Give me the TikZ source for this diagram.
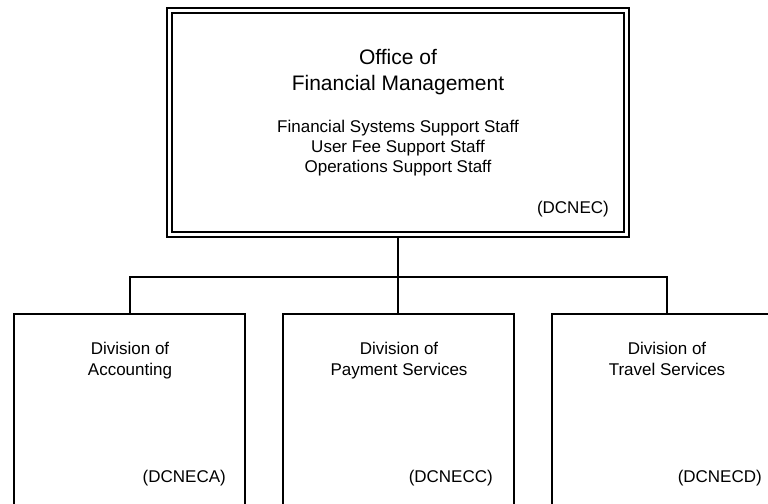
\documentclass[tikz,border=0pt]{standalone}
\usepackage{fontspec}
\setmainfont{Liberation Sans}
\begin{document}
\begin{tikzpicture}[x=1bp,y=-1bp,
  frame/.style={draw=black,line width=2bp},
  link/.style={draw=black,line width=2bp},
  bigtxt/.style={anchor=base,inner sep=0pt,font=\fontsize{21bp}{26bp}\selectfont},
  txt/.style={anchor=base,inner sep=0pt,font=\fontsize{17bp}{20bp}\selectfont},
  code/.style={anchor=base east,inner sep=0pt,font=\fontsize{17bp}{20bp}\selectfont}]
\useasboundingbox (0,0) rectangle (768,504);
\clip (0,0) rectangle (768,504);
\fill[white] (0,0) rectangle (768,504);

% head office: double frame
\draw[frame] (167,8) rectangle (629,237);
\draw[frame] (172,13) rectangle (624,232);
\coordinate (top) at (398,237);
\node[bigtxt] (t1) at (398,65) {Office of};
\node[bigtxt] (t2) at (398,91) {Financial Management};
\node[txt] (s1) at (398,133) {Financial Systems Support Staff};
\node[txt] (s2) at (398,153) {User Fee Support Staff};
\node[txt] (s3) at (398,173) {Operations Support Staff};
\node[code] (c0) at (609,214) {(DCNEC)};

% divisions
\draw[frame] (14,314) rectangle (245,530);
\draw[frame] (283,314) rectangle (514,530);
\draw[frame] (552,314) rectangle (783,530);
\coordinate (d1) at (130,314);
\coordinate (d2) at (398,314);
\coordinate (d3) at (667,314);
\coordinate (bus) at (398,277);

\node[txt] (a1) at (130,354) {Division of};
\node[txt] (a2) at (130,375) {Accounting};
\node[code] (ca) at (226,482) {(DCNECA)};

\node[txt] (b1) at (399,354) {Division of};
\node[txt] (b2) at (399,375) {Payment Services};
\node[code] (cb) at (493,482) {(DCNECC)};

\node[txt] (e1) at (667,354) {Division of};
\node[txt] (e2) at (667,375) {Travel Services};
\node[code] (ce) at (762,482) {(DCNECD)};

% connectors
\draw[link] (top) -- (bus);
\draw[link] (d1) |- (bus) -| (d3);
\draw[link] (bus) -- (d2);
\end{tikzpicture}
\end{document}
